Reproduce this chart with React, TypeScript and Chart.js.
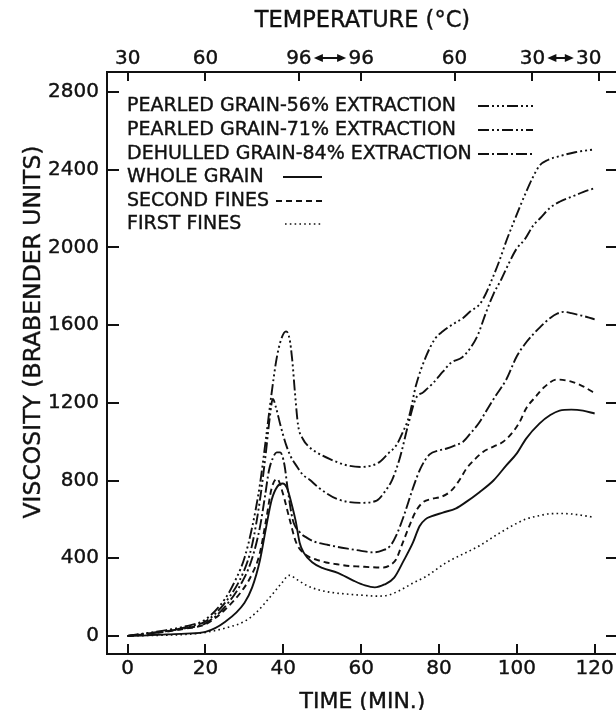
import React, { useEffect, useRef } from 'react';
import { Chart, registerables } from 'chart.js';

Chart.register(...registerables);

const INK = '#111111';
const FONT = '"DejaVu Sans", "Noto Sans", sans-serif';

// ---- Data (time in minutes, viscosity in Brabender units) ----
const t56 = [0, 5, 10, 15, 20, 25, 28, 30, 32, 34, 35.5, 37, 38.3, 39.5, 40.7, 41.6, 42.3, 43, 43.8, 45, 46.5, 48.4, 52, 56, 60, 64.7, 67, 69, 70.5, 72.4, 74.1, 76.7, 79, 81, 84, 86.2, 88, 90.4, 92, 93.8, 95.5, 97.3, 99, 100.7, 102.5, 104.1, 105.8, 108, 111, 115, 120];
const v56 = [0, 15, 30, 50, 85, 190, 300, 400, 560, 780, 1010, 1250, 1430, 1530, 1568, 1530, 1420, 1250, 1085, 1015, 975, 947, 910, 880, 870, 895, 940, 980, 1040, 1136, 1290, 1440, 1530, 1568, 1610, 1637, 1670, 1706, 1760, 1844, 1930, 2033, 2120, 2205, 2290, 2360, 2420, 2450, 2470, 2490, 2505];

const t71 = [0, 5, 10, 15, 20, 25, 30, 32, 34, 35.5, 36.5, 37.3, 38.2, 39.2, 40.7, 42, 43.3, 45, 46.7, 49.3, 53.8, 59.8, 64, 66, 68, 70, 72, 74, 76, 78.4, 81, 83, 86, 88, 90, 92, 94, 96, 98, 100, 102, 104.3, 106, 108.6, 111, 114, 117, 120];
const v71 = [0, 12, 25, 45, 75, 170, 340, 470, 700, 940, 1120, 1220, 1170, 1090, 985, 920, 878, 830, 805, 760, 705, 685, 697, 740, 805, 920, 1080, 1220, 1255, 1300, 1360, 1405, 1435, 1480, 1550, 1660, 1760, 1835, 1920, 1995, 2040, 2115, 2150, 2205, 2235, 2260, 2285, 2305];

const t84 = [0, 5, 10, 15, 20, 25, 30, 32, 34, 35.3, 36.3, 37.3, 38.3, 39.2, 40.3, 41.1, 42.4, 44.2, 46.1, 48, 51.2, 54, 57.2, 60, 63.2, 65.5, 67.5, 69, 71, 73.3, 75.2, 77.6, 80, 82, 84, 86.2, 88, 90.4, 92.5, 94.7, 97.3, 100, 102, 104.3, 106, 108.6, 110.5, 112, 114, 116, 118, 120];
const v84 = [0, 12, 25, 40, 65, 150, 300, 400, 560, 720, 850, 915, 945, 945, 880, 760, 600, 535, 505, 485, 470, 458, 447, 438, 430, 440, 464, 516, 620, 760, 860, 935, 955, 965, 980, 1000, 1040, 1100, 1170, 1240, 1320, 1440, 1500, 1555, 1590, 1637, 1660, 1668, 1662, 1652, 1642, 1630];

const tWhole = [0, 5, 10, 15, 20, 25, 30, 32, 34, 35.5, 37, 38.5, 39.8, 41, 42, 43.2, 44.2, 45.2, 47.5, 50, 54, 58, 61, 63.5, 66, 68.5, 71, 73.3, 75, 76.5, 78, 81, 84.4, 87, 90.4, 94, 97.3, 100, 102.4, 105.8, 108.6, 111, 114, 117, 120];
const vWhole = [0, 3, 8, 12, 21, 72, 170, 250, 390, 550, 700, 770, 785, 760, 690, 590, 480, 430, 378, 350, 325, 285, 260, 250, 265, 300, 390, 480, 565, 600, 615, 635, 657, 690, 740, 800, 878, 940, 1016, 1093, 1137, 1160, 1165, 1160, 1145];

const tSecond = [0, 5, 10, 15, 20, 25, 30, 32, 33.9, 35.6, 37, 38.4, 39.8, 41.6, 43.3, 45, 46.8, 48.6, 51, 53.8, 57, 59.8, 62.5, 65.8, 67.5, 69, 70.5, 72.4, 74, 75.9, 78, 80.2, 82, 83.6, 85.5, 87, 89, 91.3, 94, 96.4, 99, 100.7, 102.4, 105, 107, 110.3, 113.8, 117, 120];
const vSecond = [0, 10, 22, 38, 60, 135, 250, 320, 420, 600, 760, 809, 740, 602, 481, 430, 405, 392, 378, 369, 360, 357, 354, 352, 365, 395, 470, 567, 640, 688, 705, 714, 730, 757, 810, 860, 905, 947, 975, 998, 1050, 1100, 1171, 1235, 1280, 1320, 1310, 1285, 1250];

const tFirst = [0, 5, 10, 15, 20, 25, 30, 33, 36.6, 39.5, 41.6, 43.5, 46, 48.6, 52, 57.2, 60, 64.1, 67, 70, 73.3, 76.9, 81.9, 86, 90.4, 94, 97.3, 100, 102.4, 105.8, 108, 111, 114, 117, 120];
const vFirst = [0, 2, 4, 8, 18, 40, 75, 120, 200, 270, 312, 290, 260, 240, 225, 214, 210, 205, 210, 235, 272, 309, 378, 420, 464, 510, 550, 580, 602, 619, 628, 630, 628, 620, 610];

const seriesLabels = [
  'PEARLED GRAIN-56% EXTRACTION',
  'PEARLED GRAIN-71% EXTRACTION',
  'DEHULLED GRAIN-84% EXTRACTION',
  'WHOLE GRAIN',
  'SECOND FINES',
  'FIRST FINES',
];

// ---- Axes ----
const xTicks = [0, 20, 40, 60, 80, 100, 120];
const yTicks = [0, 400, 800, 1200, 1600, 2000, 2400, 2800];
const topLabelPos = [0, 20, 44, 60, 84, 104, 118.5];
const topLabels = ['30', '60', '96', '96', '60', '30', '30'];
const topTickMarks = [0, 20, 44, 60, 84, 104, 121];
const topArrows = [[44, 60], [104, 118.5]];
const xTitle = 'TIME (MIN.)';
const yTitle = 'VISCOSITY (BRABENDER UNITS)';
const topTitle = 'TEMPERATURE (°C)';

const styles = [
  { dash: [11, 3, 2, 3, 2, 3, 2, 3], width: 1.9 },
  { dash: [11, 3, 2, 3, 2, 3], width: 1.9 },
  { dash: [11, 3, 2, 3], width: 1.9 },
  { dash: [], width: 1.9 },
  { dash: [6, 4], width: 1.9 },
  { dash: [1.6, 3.2], width: 1.6 },
];

const legendRows = [
  { y: 106, x0: 478, x1: 533 },
  { y: 130, x0: 478, x1: 533 },
  { y: 154, x0: 478, x1: 533 },
  { y: 177, x0: 283, x1: 322 },
  { y: 201, x0: 276, x1: 322 },
  { y: 224, x0: 285, x1: 322 },
];

function pts(t: number[], v: number[]) {
  return t.map((x, i) => ({ x, y: v[i] }));
}

function boldText(ctx: CanvasRenderingContext2D, s: string, x: number, y: number) {
  ctx.fillText(s, x, y);
  ctx.strokeText(s, x, y);
}

const decor = {
  id: 'decor',
  afterDraw(chart: any) {
    const ctx = chart.ctx as CanvasRenderingContext2D;
    const { left, right, top, bottom } = chart.chartArea;
    const xs = chart.scales.x;
    const xt = chart.scales.xTop;
    const ys = chart.scales.y;
    ctx.save();
    ctx.setLineDash([]);
    ctx.globalAlpha = 1;
    ctx.fillStyle = INK;
    ctx.strokeStyle = INK;
    // inward tick marks
    xTicks.forEach((v) => {
      const p = Math.round(xs.getPixelForValue(v));
      ctx.fillRect(p - 1, bottom - 10, 2, 10);
    });
    topTickMarks.forEach((v) => {
      const p = Math.round(xt.getPixelForValue(v));
      ctx.fillRect(p - 1, top, 2, 9);
    });
    yTicks.forEach((v) => {
      const p = Math.round(ys.getPixelForValue(v));
      ctx.fillRect(left, p - 1, 12, 2);
      ctx.fillRect(right - 12, p - 1, 12, 2);
    });
    // arrows on temperature axis
    topArrows.forEach(([a, b]) => {
      const x1 = xt.getPixelForValue(a) + 15;
      const x2 = xt.getPixelForValue(b) - 15;
      const y = top - 14;
      ctx.fillRect(x1 + 6, y - 1, x2 - x1 - 12, 2);
      ctx.beginPath();
      ctx.moveTo(x1, y);
      ctx.lineTo(x1 + 9, y - 4);
      ctx.lineTo(x1 + 9, y + 4);
      ctx.closePath();
      ctx.fill();
      ctx.beginPath();
      ctx.moveTo(x2, y);
      ctx.lineTo(x2 - 9, y - 4);
      ctx.lineTo(x2 - 9, y + 4);
      ctx.closePath();
      ctx.fill();
    });
    // titles
    ctx.lineWidth = 0.4;
    ctx.font = `22.5px ${FONT}`;
    ctx.textAlign = 'center';
    ctx.textBaseline = 'middle';
    const cx = (left + right) / 2;
    boldText(ctx, topTitle, cx, 21);
    ctx.font = `22px ${FONT}`;
    boldText(ctx, xTitle, cx, 702);
    ctx.save();
    ctx.translate(34, 332);
    ctx.rotate(-Math.PI / 2);
    ctx.font = `23.5px ${FONT}`;
    boldText(ctx, yTitle, 0, 0);
    ctx.restore();
    // legend
    ctx.font = `19px ${FONT}`;
    ctx.textAlign = 'left';
    const ds = chart.data.datasets;
    legendRows.forEach((r, i) => {
      ctx.lineWidth = 0.4;
      boldText(ctx, ds[i].label, 127, r.y);
      ctx.setLineDash(ds[i].borderDash || []);
      ctx.lineWidth = ds[i].borderWidth;
      ctx.beginPath();
      ctx.moveTo(r.x0, r.y);
      ctx.lineTo(r.x1, r.y);
      ctx.stroke();
      ctx.setLineDash([]);
    });
    ctx.restore();
  },
};

export default function App() {
  const ref = useRef<HTMLCanvasElement>(null);
  useEffect(() => {
    if (!ref.current) return;
    const data = [
      pts(t56, v56),
      pts(t71, v71),
      pts(t84, v84),
      pts(tWhole, vWhole),
      pts(tSecond, vSecond),
      pts(tFirst, vFirst),
    ];
    const tickFont = { family: FONT, size: 20 };
    const tickCommon = {
      font: tickFont,
      color: INK,
      textStrokeColor: INK,
      textStrokeWidth: 0.4,
      autoSkip: false,
    };
    const chart = new Chart(ref.current, {
      type: 'line',
      data: {
        datasets: data.map((d, i) => ({
          label: seriesLabels[i],
          data: d,
          borderColor: INK,
          borderWidth: styles[i].width,
          borderDash: styles[i].dash,
          pointRadius: 0,
          fill: false,
          cubicInterpolationMode: 'monotone' as const,
          xAxisID: 'x',
          yAxisID: 'y',
        })),
      },
      options: {
        responsive: false,
        animation: false,
        devicePixelRatio: 1,
        layout: { padding: { left: 0, right: 4, top: 0, bottom: 0 } },
        plugins: {
          legend: { display: false },
          tooltip: { enabled: false },
          title: { display: false },
        },
        scales: {
          x: {
            type: 'linear',
            position: 'bottom',
            min: -5.3,
            max: 126,
            afterBuildTicks: (s: any) => {
              s.ticks = xTicks.map((v) => ({ value: v }));
            },
            afterFit: (s: any) => {
              s.height = 56;
            },
            grid: { display: false, drawTicks: false },
            border: { display: true, color: INK, width: 2 },
            ticks: {
              ...tickCommon,
              padding: 3,
              maxRotation: 0,
              callback: (v: any) => String(v),
            },
          },
          xTop: {
            type: 'linear',
            position: 'top',
            min: -5.3,
            max: 126,
            afterBuildTicks: (s: any) => {
              s.ticks = topLabelPos.map((v) => ({ value: v }));
            },
            afterFit: (s: any) => {
              s.height = 72;
            },
            grid: { display: false, drawTicks: false },
            border: { display: true, color: INK, width: 2 },
            ticks: {
              ...tickCommon,
              padding: 1,
              maxRotation: 0,
              callback: (_v: any, i: number) => topLabels[i],
            },
          },
          y: {
            type: 'linear',
            position: 'left',
            min: -93,
            max: 2903,
            afterBuildTicks: (s: any) => {
              s.ticks = yTicks.map((v) => ({ value: v }));
            },
            afterFit: (s: any) => {
              s.width = 107;
            },
            grid: { display: false, drawTicks: false },
            border: { display: true, color: INK, width: 2 },
            ticks: {
              ...tickCommon,
              padding: 8,
              callback: (v: any) => String(v),
            },
          },
        },
      },
      plugins: [decor],
    });
    return () => chart.destroy();
  }, []);

  return (
    <div
      style={{
        position: 'fixed',
        left: 0,
        top: 0,
        width: 616,
        height: 710,
        overflow: 'hidden',
        background: '#ffffff',
      }}
    >
      <canvas ref={ref} width={622} height={710} style={{ width: 622, height: 710, display: 'block' }} />
    </div>
  );
}
